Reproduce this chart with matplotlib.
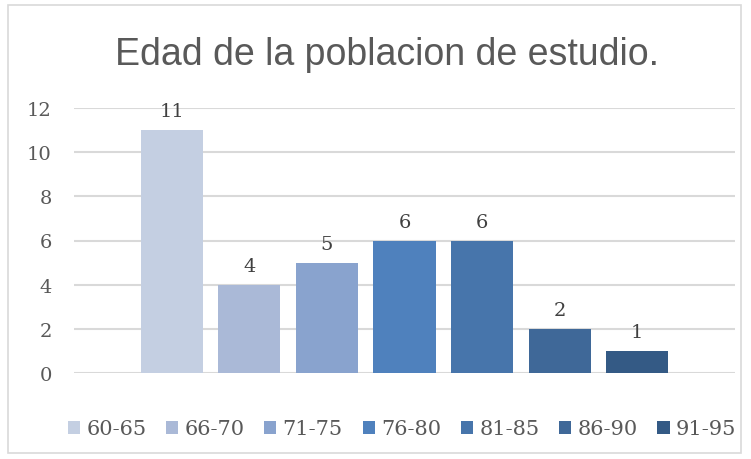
import matplotlib.pyplot as plt
from matplotlib.patches import Rectangle

# datos del grafico
grupos = ['60-65', '66-70', '71-75', '76-80', '81-85', '86-90', '91-95']
valores = [11, 4, 5, 6, 6, 2, 1]
colores = ['#C4CFE2', '#AAB9D7', '#89A3CE', '#4F81BD', '#4775AB', '#3F6898', '#345A85']
yticks = [0, 2, 4, 6, 8, 10, 12]

TXT = '#595959'
SERIF = 'DejaVu Serif'

fig = plt.figure(figsize=(7.51, 4.60), dpi=100)
ax = fig.add_axes([74 / 751, 1 - 374 / 460, (735 - 74) / 751, (374 - 109) / 460])

bars = []
for i, (g, v, c) in enumerate(zip(grupos, valores, colores)):
    b = ax.bar(i, v, width=0.8, color=c, label=g, zorder=3)
    bars.append(b)
    ax.annotate(str(v), (i, v), xytext=(0, 7), textcoords='offset points',
                ha='center', va='bottom', fontsize=14, color='#404040', family=SERIF)

ax.set_xlim(-1.26, 7.26)
ax.set_ylim(0, 12)
ax.set_yticks(yticks)
ax.set_xticks([])
ax.grid(axis='y', color='#D9D9D9', lw=1.5, zorder=0)
for s in ax.spines.values():
    s.set_visible(False)
ax.tick_params(axis='y', length=0, pad=16, labelsize=14, labelcolor=TXT)
for lab in ax.get_yticklabels():
    lab.set_family(SERIF)

fig.text(387 / 751, 1 - 55 / 460, 'Edad de la poblacion de estudio.', ha='center', va='center',
         fontsize=27, color=TXT, family='Liberation Sans')

leg = fig.legend(handles=[b[0] for b in bars], labels=grupos, loc='center',
                 bbox_to_anchor=(402 / 751, 1 - 430 / 460), ncol=7, frameon=False,
                 handlelength=0.58, handleheight=0.58, handletextpad=0.3, columnspacing=0.95,
                 prop={'family': SERIF, 'size': 15})
for t in leg.get_texts():
    t.set_color(TXT)

# borde del grafico
fig.patches.append(Rectangle((8 / 751, 6 / 460), 733 / 751, 448 / 460, transform=fig.transFigure,
                             fill=False, edgecolor='#D9D9D9', lw=1.2))

fig.savefig('out.png', dpi=100)
